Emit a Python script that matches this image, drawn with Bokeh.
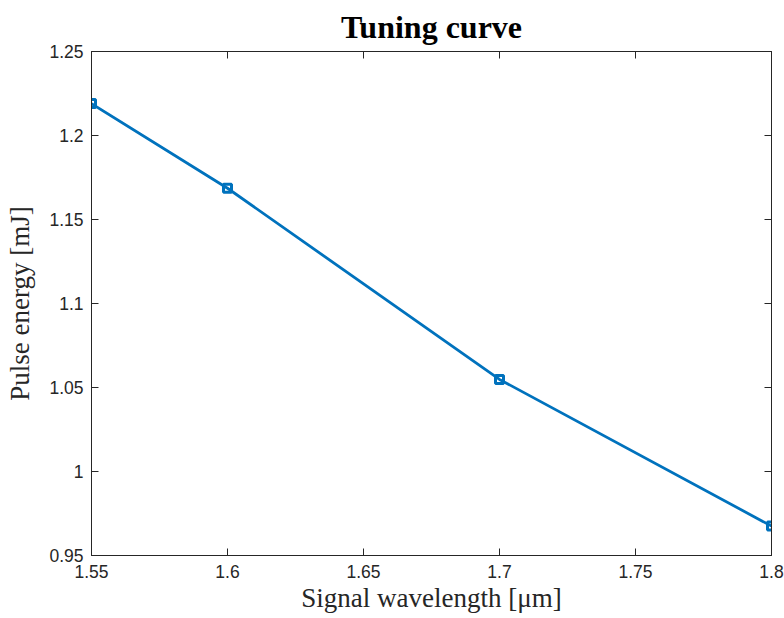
from bokeh.plotting import figure
from bokeh.models import LinearAxis, Range1d, FixedTicker, CustomLabelingPolicy
from bokeh.embed import file_html
from bokeh.resources import INLINE

wavelength = [1.55, 1.6, 1.7, 1.8]
energy = [1.219, 1.1686, 1.0548, 0.9675]
x_ticks = [1.55, 1.6, 1.65, 1.7, 1.75, 1.8]
y_ticks = [0.95, 1.0, 1.05, 1.1, 1.15, 1.2, 1.25]

BLUE = "#0072BD"
AX = "#262626"

p = figure(width=784, height=618, output_backend="svg", toolbar_location=None,
           x_range=Range1d(1.55, 1.8), y_range=Range1d(0.95, 1.25),
           min_border_left=91, min_border_right=13, min_border_top=50, min_border_bottom=63)

p.title.text = "Tuning curve"
p.title.text_font = "Liberation Serif"
p.title.text_font_size = "32px"
p.title.text_font_style = "bold"
p.title.align = "center"
p.title.text_color = "black"
p.title.standoff = 13

p.xgrid.visible = False
p.ygrid.visible = False
p.outline_line_color = AX
p.outline_line_width = 1

for ax in (p.xaxis[0], p.yaxis[0]):
    ax.major_tick_in = 7
    ax.major_tick_out = 0
    ax.minor_tick_in = 0
    ax.minor_tick_out = 0
    ax.axis_line_color = AX
    ax.major_tick_line_color = AX
    ax.major_label_text_color = AX
    ax.major_label_text_font = "Liberation Sans"
    ax.major_label_text_font_size = "17.5px"
    ax.axis_label_text_font = "Liberation Serif"
    ax.axis_label_text_font_size = "27px"
    ax.axis_label_text_font_style = "normal"
    ax.axis_label_text_color = AX

p.xaxis[0].ticker = FixedTicker(ticks=x_ticks)
p.yaxis[0].ticker = FixedTicker(ticks=y_ticks)
p.xaxis[0].axis_label = "Signal wavelength [μm]"
p.yaxis[0].axis_label = "Pulse energy [mJ]"
p.xaxis[0].major_label_standoff = 9
p.xaxis[0].axis_label_standoff = 2
p.yaxis[0].major_label_standoff = 8
p.yaxis[0].axis_label_standoff = 11

hide = CustomLabelingPolicy(code="""
try { for (let i = 0; i < indices.size; i++) { indices.unset(i) } } catch (e) {}
return indices;
""")
for loc, ticks in (("above", x_ticks), ("right", y_ticks)):
    a = LinearAxis(ticker=FixedTicker(ticks=ticks))
    a.major_tick_in = 7
    a.major_tick_out = 0
    a.minor_tick_in = 0
    a.minor_tick_out = 0
    a.axis_line_color = AX
    a.major_tick_line_color = AX
    a.major_label_policy = hide
    a.major_label_text_alpha = 0
    a.major_label_text_font_size = "10px"
    a.major_label_standoff = 0
    p.add_layout(a, loc)

p.line(wavelength, energy, line_color=BLUE, line_width=2.8)
p.scatter(wavelength, energy, marker="square", size=8, fill_color=None,
          line_color=BLUE, line_width=3)

open("out.html", "w").write(file_html(p, INLINE))
